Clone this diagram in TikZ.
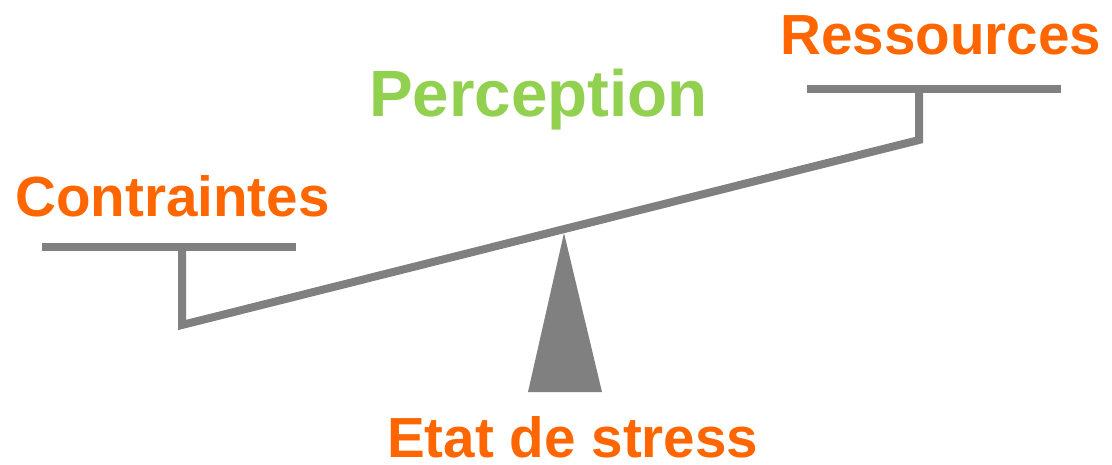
\documentclass[tikz,border=0pt]{standalone}
\usepackage{fontspec}
\setmainfont{Liberation Sans}
\definecolor{lbl}{RGB}{255,102,0}
\definecolor{perc}{RGB}{146,208,80}
\definecolor{beamgray}{RGB}{128,128,128}
\begin{document}
\begin{tikzpicture}[x=1pt,y=-1pt,
  lab/.style={anchor=base west,inner sep=0pt,text=lbl,font=\fontsize{56.6}{60}\selectfont\bfseries},
  bar/.style={draw=beamgray,line width=8pt}]
\useasboundingbox (0,0) rectangle (1112,465);
% coordinates
\coordinate (lpanL) at (42,247);
\coordinate (lpanR) at (296,247);
\coordinate (lhang) at (182,247);
\coordinate (lend) at (182,325);
\coordinate (rpanL) at (807,89);
\coordinate (rpanR) at (1061,89);
\coordinate (rhang) at (919,89);
\coordinate (rend) at (919,140);
\coordinate (apex) at (564,233);
\coordinate (baseL) at (528,392);
\coordinate (baseR) at (602,392);
% pans and beam
\draw[bar] (lpanL) -- (lpanR);
\draw[bar] (rpanL) -- (rpanR);
\draw[bar,line join=miter] (lhang) -- (lend) -- (rend) -- (rhang);
% fulcrum
\fill[beamgray] (apex) -- (baseR) -- (baseL) -- cycle;
% labels
\node[lab] (contraintes) at (15,217) {Contraintes};
\node[lab] (ressources) at (780,55) {Ressources};
\node[lab,text=perc,font=\fontsize{65.5}{68}\selectfont\bfseries] (perception) at (369,117) {Perception};
\node[lab] (etat) at (387,457) {Etat de stress};
\end{tikzpicture}
\end{document}
